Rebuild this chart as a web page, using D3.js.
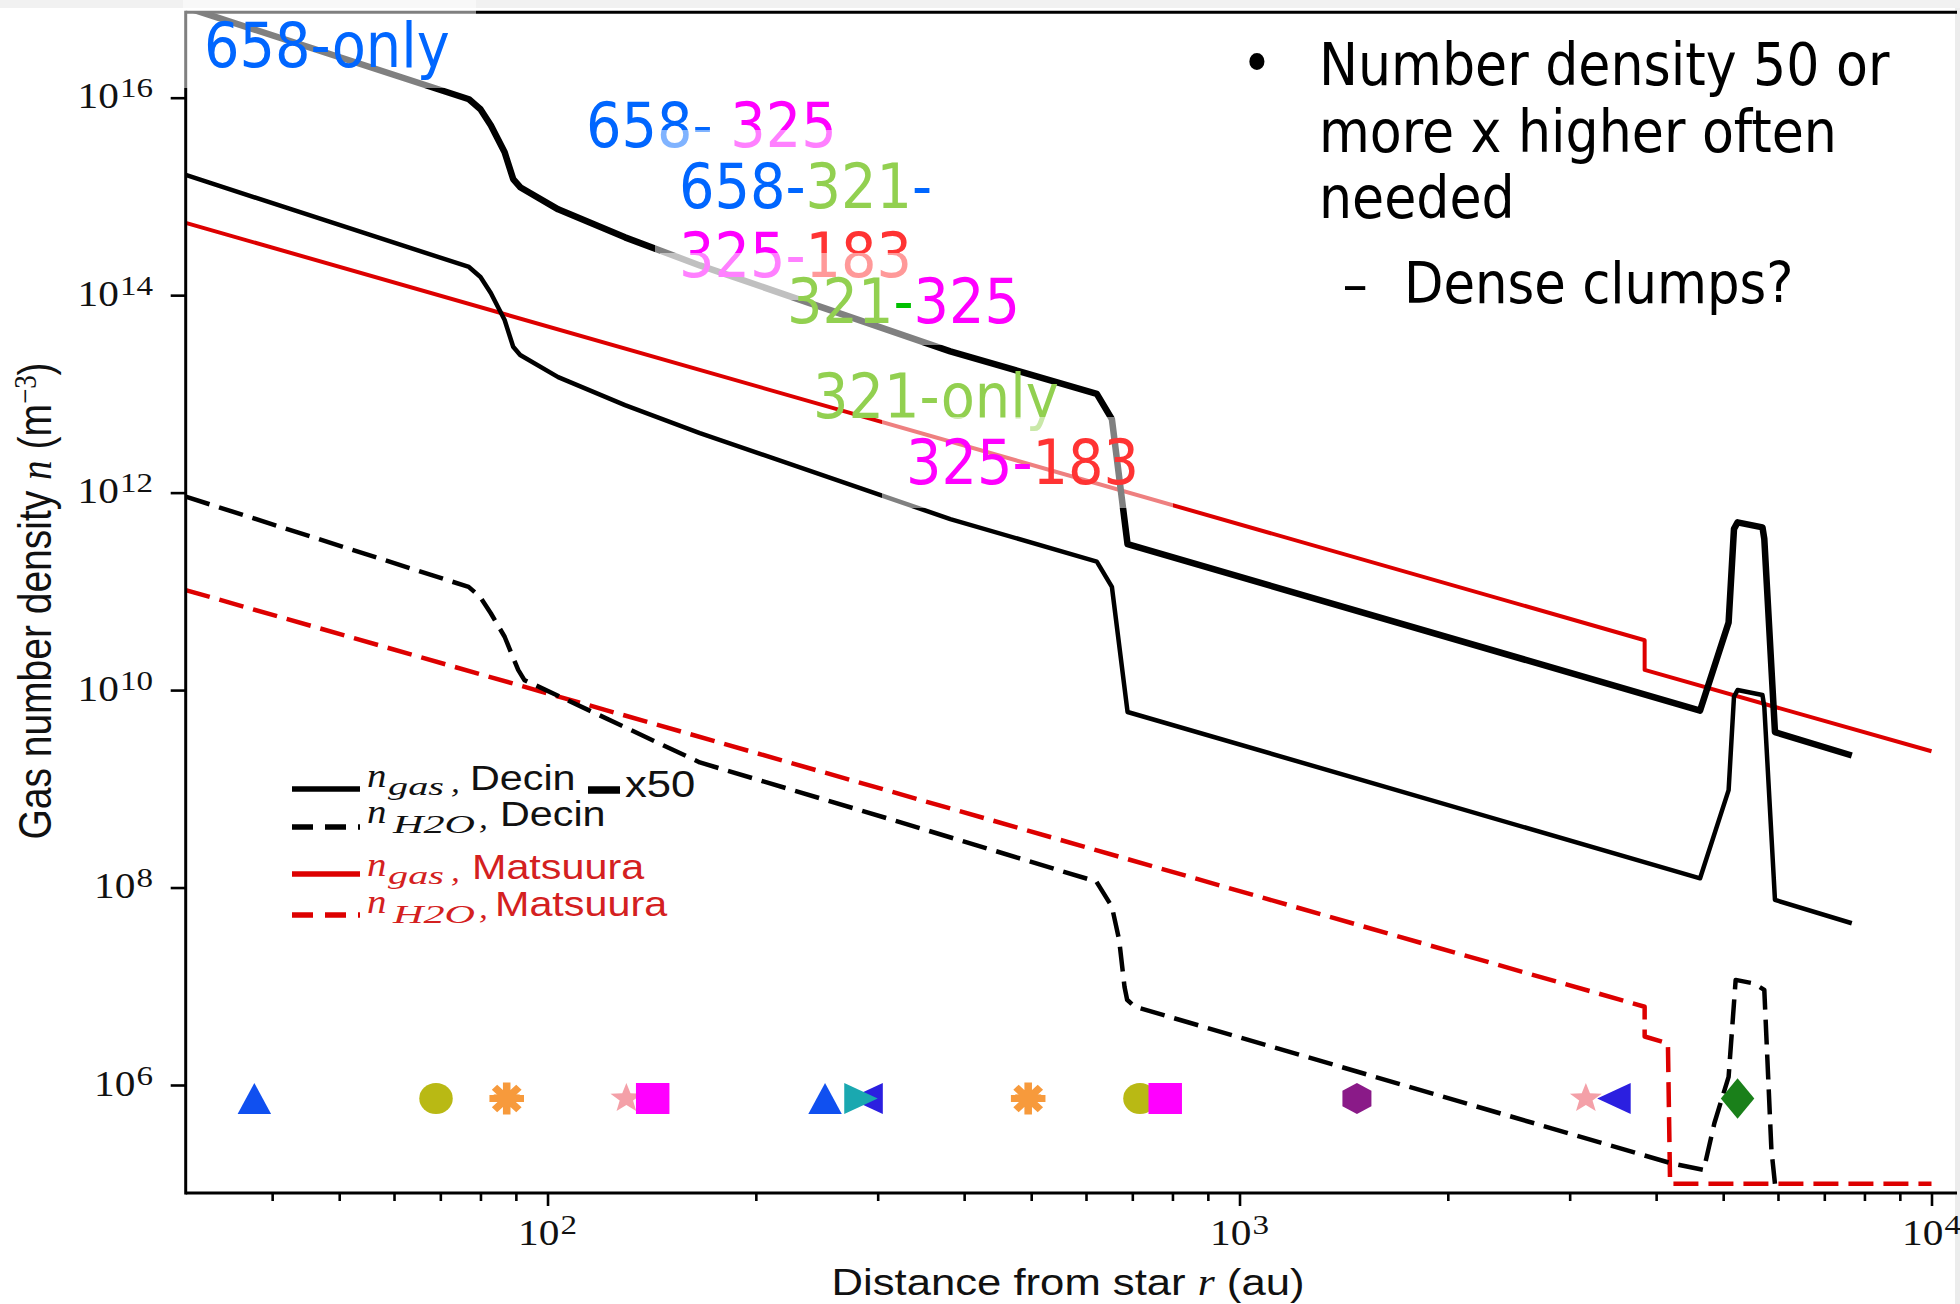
<!DOCTYPE html>
<html>
<head>
<meta charset="utf-8">
<script src="https://d3js.org/d3.v7.min.js"></script>
<style>
  html, body { margin: 0; padding: 0; background: #fff; }
  svg { display: block; }
  .cond { font-family: 'DejaVu Sans Condensed', 'DejaVu Sans', sans-serif; font-stretch: condensed; }
</style>
</head>
<body>
<svg id="chart" width="1960" height="1304"></svg>
<script>
// ---- radial density profiles (r in au, n in m^-3) ----
const decinR   = [30, 77, 80, 82.8, 86.7, 89.2, 91.3, 103.6, 129.4, 166, 382, 622, 654, 689, 4630, 5091, 5183, 5245, 5698, 5733, 5940, 7670];
const decinGas = [1.65e15, 1.93e14, 1.53e14, 1.05e14, 5.6e13, 3.0e13, 2.48e13, 1.48e13, 7.7e12, 4.0e12, 5.4e11, 2.0e11, 1.11e11, 6.0e9, 1.24e8, 9.7e8, 8.6e9, 1.0e10, 8.9e9, 6.8e9, 7.5e7, 4.35e7];
const clumpFactor = 50;   // "x50" enhanced copy of the Decin gas profile

const decinH2OR = [30, 76.9, 79.9, 82.8, 86.7, 90.7, 92.6, 96.1, 166, 323, 621, 654, 670, 682, 688, 706, 4208, 4686, 4855, 5091, 5212, 5533, 5733, 5870, 5940];
const decinH2O  = [9.1e11, 1.11e11, 8.8e10, 6.0e10, 3.47e10, 1.6e10, 1.26e10, 1.12e10, 1.85e9, 4.6e8, 1.15e8, 6.4e7, 2.94e7, 9.9e6, 7.3e6, 6.2e6, 1.61e5, 1.38e5, 4.1e5, 1.21e6, 1.16e7, 1.07e7, 9.2e6, 2.2e5, 1.0e5];

const matsuuraR   = [30, 3850, 3850, 10000];
const matsuuraGas = [5.4e14, 3.2e10, 1.6e10, 2.4e9];
const matsuuraH2OR = [30, 3850, 3850, 4160, 4190, 10000];
const matsuuraH2O  = [1.03e11, 6.2e6, 3.1e6, 2.64e6, 1.0e5, 1.0e5];

// ---- maser spot positions (drawn in this order) ----
const markerR     = [37.7, 69.0, 87.3, 130, 141.9, 251.8, 288.6, 283.8, 495, 718, 781, 1478, 3166, 3476, 5245];
const markerShape = ["triangleUp", "circle", "asterisk", "star", "square", "triangleUp", "triangleLeft", "triangleRight", "asterisk", "circle", "square", "hexagon", "star", "triangleLeft", "diamond"];
const markerColor = ["#1050f0", "#b9b914", "#f79a3c", "#f4a0a8", "#ff00ff", "#1050f0", "#2b1fe0", "#1aa8b0", "#f79a3c", "#b9b914", "#ff00ff", "#8a1a88", "#f4a0a8", "#2b1fe0", "#1a801a"];
const markerLevel = 7.3e5;

// ---- axis ticks ----
const yMajor = [1e16, 1e14, 1e12, 1e10, 1e8, 1e6];
const yExp   = ["16", "14", "12", "10", "8", "6"];
const xMajor = [1e2, 1e3, 1e4];
const xExp   = ["2", "3", "4"];
const xMinor = [40, 50, 60, 70, 80, 90, 200, 300, 400, 500, 600, 700, 800, 900, 2000, 3000, 4000, 5000, 6000, 7000, 8000, 9000];

// ---- legend ----
const legendNames = ["Decin", "Decin", "Matsuura", "Matsuura"];
const legendSubs  = ["gas", "H2O", "gas", "H2O"];

// ---- line-combination annotations ----
const BLUE = "#0066ff", MAGENTA = "#ff00ff", LGREEN = "#92d050", GREEN = "#00c000", LRED = "#ff3333";
const comboLabels = [
  [["658-only", BLUE]],
  [["658-", BLUE], [" 325", MAGENTA]],
  [["658-", BLUE], ["321", LGREEN], ["-", BLUE]],
  [["325-", MAGENTA], ["183", LRED]],
  [["321", LGREEN], ["-", GREEN], ["325", MAGENTA]],
  [["321-only", LGREEN]],
  [["325-", MAGENTA], ["183", LRED]]
];
const notes = ["Number density 50 or", "more x higher often", "needed"];
const subNote = "Dense clumps?";

// ================= drawing =================
const svg = d3.select("#chart");
const SX = 1.18;                         // horizontal stretch of the figure's text
const plot = { left: 185.7, right: 1957, top: 12.3, bottom: 1193 };

const x = d3.scaleLog().domain([30, 10000]).range([185.7, 1931.5]);
const y = d3.scaleLog().domain([1e6, 1e16]).range([1085, 97.7]);

// faint frame of the embedded figure
svg.append("rect").attr("x", 0).attr("y", 0).attr("width", 1960).attr("height", 8).attr("fill", "#f1f1f1");
svg.append("rect").attr("x", 1955).attr("y", 8).attr("width", 5).attr("height", 1296).attr("fill", "#ececec");

svg.append("defs").append("clipPath").attr("id", "clip")
  .append("rect").attr("x", plot.left).attr("y", plot.top)
  .attr("width", plot.right - plot.left).attr("height", plot.bottom - plot.top);

const body = svg.append("g").attr("clip-path", "url(#clip)");
const line = d3.line().x(d => x(d[0])).y(d => y(d[1]));
const zip = (a, b) => a.map((v, i) => [v, b[i]]);

const RED = "#dd0000";
const series = [
  { pts: zip(matsuuraH2OR, matsuuraH2O), color: RED, w: 4.5, dash: "25,10" },
  { pts: zip(decinH2OR, decinH2O), color: "#000", w: 4.5, dash: "25,10" },
  { pts: zip(matsuuraR, matsuuraGas), color: RED, w: 4, dash: null },
  { pts: zip(decinR, decinGas), color: "#000", w: 4.5, dash: null },
  { pts: zip(decinR, decinGas.map(v => v * clumpFactor)), color: "#000", w: 6.5, dash: null }
];
body.selectAll("path.series").data(series).join("path")
  .attr("class", "series")
  .attr("d", d => line(d.pts))
  .attr("fill", "none")
  .attr("stroke", d => d.color)
  .attr("stroke-width", d => d.w)
  .attr("stroke-dasharray", d => d.dash)
  .attr("stroke-linejoin", "round");

// marker shapes (centred on the origin)
function shapePath(t, r) {
  const p = [];
  switch (t) {
    case "triangleUp":    return `M0,${-r}L${r},${r}L${-r},${r}Z`;
    case "triangleLeft":  return `M${-r},0L${r},${-r}L${r},${r}Z`;
    case "triangleRight": return `M${r},0L${-r},${-r}L${-r},${r}Z`;
    case "square":        return `M${-r},${-r}H${r}V${r}H${-r}Z`;
    case "diamond":       return `M0,${-r * 1.3}L${r},0L0,${r * 1.3}L${-r},0Z`;
    case "circle":        return `M${r},0A${r},${r} 0 1,1 ${-r},0A${r},${r} 0 1,1 ${r},0Z`;
    case "hexagon":
      for (let k = 0; k < 6; k++) { const a = -Math.PI / 2 + k * Math.PI / 3; p.push([r * Math.cos(a), r * Math.sin(a)]); }
      return "M" + p.map(q => q.join(",")).join("L") + "Z";
    case "star":
      for (let k = 0; k < 10; k++) { const a = -Math.PI / 2 + k * Math.PI / 5, rr = k % 2 ? r * 0.42 : r; p.push([rr * Math.cos(a), rr * Math.sin(a)]); }
      return "M" + p.map(q => q.join(",")).join("L") + "Z";
  }
  return "";
}
const mk = body.append("g").selectAll("g").data(markerR.map((r, i) => ({ r, t: markerShape[i], c: markerColor[i] })))
  .join("g").attr("transform", d => `translate(${x(d.r)},${y(markerLevel)}) scale(1.08,1)`);
mk.filter(d => d.t !== "asterisk").append("path").attr("d", d => shapePath(d.t, 15.5)).attr("fill", d => d.c);
const ast = mk.filter(d => d.t === "asterisk");
ast.append("path").attr("d", shapePath("star", 13)).attr("fill", d => d.c);
ast.append("path")
  .attr("d", "M-16,0H16M0,-16V16M-11.3,-11.3L11.3,11.3M-11.3,11.3L11.3,-11.3")
  .attr("stroke", d => d.c).attr("stroke-width", 7).attr("fill", "none");

// spines
const frame = svg.append("g").attr("stroke", "#000").attr("stroke-width", 3).attr("fill", "none");
frame.append("line").attr("x1", plot.left).attr("x2", plot.left).attr("y1", plot.top - 1.5).attr("y2", plot.bottom + 1.5);
frame.append("line").attr("x1", plot.left).attr("x2", plot.right).attr("y1", plot.bottom).attr("y2", plot.bottom);
frame.append("line").attr("x1", plot.left).attr("x2", plot.right).attr("y1", plot.top).attr("y2", plot.top);

// axes (tick marks from d3 axis generators)
const xAxisMajor = svg.append("g").attr("transform", `translate(0,${plot.bottom})`)
  .call(d3.axisBottom(x).tickValues(xMajor).tickSize(13).tickFormat(""));
const xAxisMinor = svg.append("g").attr("transform", `translate(0,${plot.bottom})`)
  .call(d3.axisBottom(x).tickValues(xMinor).tickSize(8).tickFormat(""));
const yAxis = svg.append("g").attr("transform", `translate(${plot.left},0)`)
  .call(d3.axisLeft(y).tickValues(yMajor).tickSize(15).tickFormat(""));
[xAxisMajor, xAxisMinor, yAxis].forEach(g => {
  g.select(".domain").remove();
  g.selectAll(".tick line").attr("stroke", "#000").attr("stroke-width", 2.6);
});

const serif = "'Liberation Serif', 'DejaVu Serif', serif";
const sans = "'Liberation Sans', Arial, sans-serif";

function powerLabel(g, px, py, exp, anchor) {
  const t = g.append("text")
    .attr("transform", `translate(${px},${py}) scale(${SX},1)`)
    .attr("text-anchor", anchor)
    .attr("font-family", serif).attr("font-size", 35).attr("fill", "#111");
  t.append("tspan").text("10");
  t.append("tspan").attr("dx", 1).attr("dy", -11).attr("font-size", 28).text(exp);
  return t;
}
yMajor.forEach((v, i) => powerLabel(svg, 153, y(v) + 10.5, yExp[i], "end"));
xMajor.forEach((v, i) => powerLabel(svg, x(v), 1245, xExp[i], "middle"));

// axis titles
const yt = svg.append("text")
  .attr("transform", `translate(51,601) scale(${SX},1) rotate(-90)`)
  .attr("text-anchor", "middle").attr("font-family", sans).attr("font-size", 39).attr("fill", "#111");
yt.append("tspan").text("Gas number density ");
yt.append("tspan").attr("font-family", serif).attr("font-style", "italic").text("n");
yt.append("tspan").text(" (m");
yt.append("tspan").attr("dy", -13).attr("font-family", serif).attr("font-size", 27).text("−3");
yt.append("tspan").attr("dy", 13).text(")");

const xt = svg.append("text")
  .attr("transform", `translate(1068,1295) scale(${SX},1)`)
  .attr("text-anchor", "middle").attr("font-family", sans).attr("font-size", 37).attr("fill", "#111");
xt.append("tspan").text("Distance from star ");
xt.append("tspan").attr("font-family", serif).attr("font-style", "italic").text("r");
xt.append("tspan").text(" (au)");

// legend
const legY = [789, 827, 874, 915];
const legTextY = [790, 826, 879, 916];
const legColor = ["#000", "#000", RED, RED];
const legTextColor = ["#111", "#111", "#d42020", "#d42020"];
const legDash = [null, "21,12", null, "21,12"];
const legNameX = [470, 500, 472, 495];
const leg = svg.append("g");
function legText(px, py, color) {
  return leg.append("text").attr("transform", `translate(${px},${py}) scale(${SX},1)`).attr("fill", color);
}
legendNames.forEach((name, i) => {
  const b = legTextY[i], c = legTextColor[i], isH2O = legendSubs[i] === "H2O";
  leg.append("line").attr("x1", 292).attr("x2", 360).attr("y1", legY[i]).attr("y2", legY[i])
    .attr("stroke", legColor[i]).attr("stroke-width", 5.5).attr("stroke-dasharray", legDash[i]);
  legText(367, b - 3, c).attr("font-family", serif).attr("font-style", "italic").attr("font-size", 33).text("n");
  legText(isH2O ? 393 : 388, b + (isH2O ? 7 : 5), c)
    .attr("font-family", serif).attr("font-style", "italic").attr("font-size", 25)
    .attr("textLength", (isH2O ? 82 : 56) / SX).attr("lengthAdjust", "spacingAndGlyphs")
    .text(legendSubs[i]);
  legText(isH2O ? 479 : 451, b + 2, c).attr("font-family", serif).attr("font-style", "italic").attr("font-size", 30).text(",");
  legText(legNameX[i], b, c).attr("font-family", sans).attr("font-size", 35).text(name);
});
leg.append("line").attr("x1", 588).attr("x2", 620).attr("y1", 790).attr("y2", 790)
  .attr("stroke", "#000").attr("stroke-width", 7.5);
leg.append("text").attr("transform", `translate(625,797) scale(${SX},1)`)
  .attr("font-family", sans).attr("font-size", 37).attr("fill", "#111").text("x" + clumpFactor);

// ---- annotations on top (text frames with translucent white fill) ----
const comboLayout = [
  { x: 204, y: 67,  box: [183, 0, 476, 88] },
  { x: 586, y: 147, box: null },
  { x: 679, y: 208, box: [655, 130, 958, 226] },
  { x: 679, y: 277, box: [655, 212, 936, 300] },
  { x: 787, y: 323, box: [660, 253, 1045, 345] },
  { x: 813, y: 418, box: null },
  { x: 906, y: 484, box: [882, 417, 1173, 508] }
];
const ann = svg.append("g");
comboLabels.forEach((parts, i) => {
  const L = comboLayout[i];
  if (L.box) {
    ann.append("rect").attr("x", L.box[0]).attr("y", L.box[1])
      .attr("width", L.box[2] - L.box[0]).attr("height", L.box[3] - L.box[1])
      .attr("fill", "#fff").attr("fill-opacity", 0.5);
  }
  const t = ann.append("text").attr("class", "cond").attr("x", L.x).attr("y", L.y)
    .attr("font-size", 62).attr("xml:space", "preserve");
  parts.forEach(([s, c]) => t.append("tspan").attr("fill", c).text(s));
});

const nt = svg.append("g").attr("class", "cond").attr("fill", "#000");
nt.append("text").attr("x", 1257).attr("y", 83).attr("text-anchor", "middle").attr("font-size", 58).text("•");
notes.forEach((s, i) => nt.append("text").attr("x", 1319).attr("y", [85, 152, 218][i]).attr("font-size", 58).text(s));
nt.append("text").attr("x", 1355).attr("y", 303).attr("text-anchor", "middle").attr("font-size", 56).text("–");
nt.append("text").attr("x", 1404).attr("y", 303).attr("font-size", 57).text(subNote);
</script>
</body>
</html>
